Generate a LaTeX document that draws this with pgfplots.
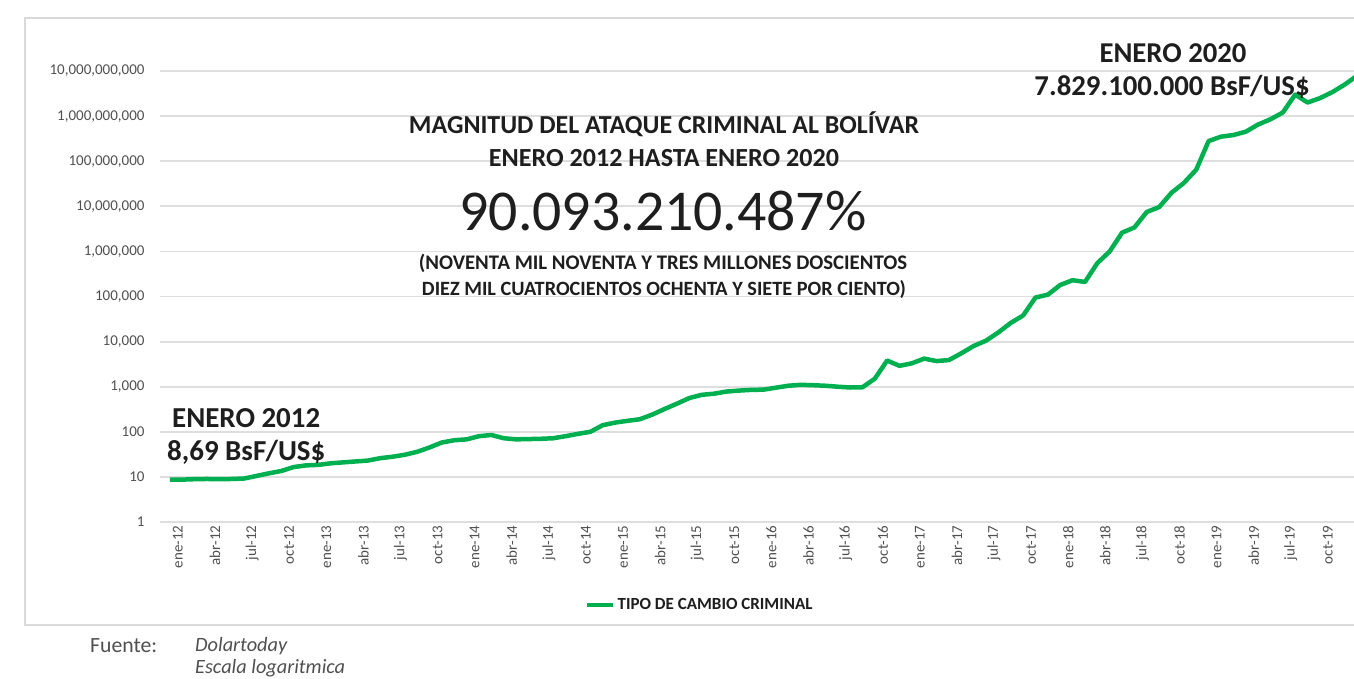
\documentclass[border=0pt]{standalone}
\usepackage{fontspec}
\setmainfont{Carlito}
\usepackage{graphicx}
\usepackage{pgfplots}
\usepackage{pgfplotstable}
\pgfplotsset{compat=1.18}

\definecolor{verde}{RGB}{0,176,80}
\definecolor{rejilla}{RGB}{222,222,222}
\definecolor{marco}{RGB}{217,217,217}
\definecolor{txtticks}{RGB}{80,80,80}
\definecolor{txt}{RGB}{30,30,30}

% tipo de cambio mensual (BsF/US$), mes 0 = ene-12
\pgfplotstableread{
m  v
0  8.69
1  8.7
2  8.9
3  9.0
4  8.9
5  9.0
6  9.2
7  10.5
8  12.0
9  13.5
10 16.5
11 18.0
12 18.5
13 20
14 21
15 22
16 23
17 26
18 28
19 31
20 36
21 45
22 58
23 65
24 68
25 80
26 85
27 72
28 68
29 69
30 70
31 72
32 80
33 90
34 100
35 140
36 160
37 175
38 190
39 240
40 320
41 420
42 560
43 660
44 700
45 780
46 820
47 850
48 860
49 950
50 1050
51 1100
52 1080
53 1050
54 1000
55 960
56 970
57 1500
58 3800
59 2900
60 3300
61 4200
62 3700
63 3900
64 5500
65 8000
66 10500
67 16000
68 26000
69 38000
70 95000
71 110000
72 180000
73 230000
74 210000
75 550000
76 1000000
77 2600000
78 3400000
79 7500000
80 9600000
81 20000000
82 33000000
83 65000000
84 280000000
85 350000000
86 380000000
87 450000000
88 650000000
89 850000000
90 1200000000
91 3000000000
92 2000000000
93 2500000000
94 3400000000
95 5000000000
96 7829100000
}\datos

\begin{document}
\begin{tikzpicture}
\useasboundingbox (0pt,0pt) rectangle (1354pt,-679pt);
\fill[white] (0pt,0pt) rectangle (1354pt,-679pt);
\draw[marco, line width=1.5pt] (1360pt,-18pt) -- (25pt,-18pt) -- (25pt,-625pt) -- (1360pt,-625pt);

\begin{axis}[
  scale only axis,
  width=1197pt, height=451pt,
  at={(160pt,-522pt)}, anchor=south west,
  xmin=-0.8, xmax=96,
  ymode=log, ymin=1, ymax=1e10,
  axis line style={draw=none},
  tick style={draw=none},
  ymajorgrids,
  grid style={rejilla, line width=1.8pt},
  ytick={1,10,100,1000,10000,100000,1000000,10000000,100000000,1000000000,10000000000},
  yticklabels={1,10,100,{1,000},{10,000},{100,000},{1,000,000},{10,000,000},{100,000,000},{1,000,000,000},{10,000,000,000}},
  yticklabel style={font=\fontsize{15}{15}\selectfont, text=txtticks, xshift=-12pt},
  xtick={0,3,...,93},
  xticklabels={ene-12,abr-12,jul-12,oct-12,ene-13,abr-13,jul-13,oct-13,ene-14,abr-14,jul-14,oct-14,ene-15,abr-15,jul-15,oct-15,ene-16,abr-16,jul-16,oct-16,ene-17,abr-17,jul-17,oct-17,ene-18,abr-18,jul-18,oct-18,ene-19,abr-19,jul-19,oct-19},
  xticklabel style={rotate=90, anchor=east, font=\fontsize{15}{15}\selectfont, text=txtticks, yshift=-8pt},
  /pgf/number format/assume math mode=true,
  legend style={at={(0.451,-0.184)}, anchor=center, draw=none, fill=none,
    font=\bfseries\fontsize{17}{17}\selectfont, text=txt},
  legend image code/.code={\draw[#1] (0pt,0pt) -- (26pt,0pt);},
]
\addplot[verde, line width=4.5pt, line join=round] table[x=m, y=v] {\datos};
\addlegendentry{TIPO DE CAMBIO CRIMINAL}
\end{axis}

\begin{scope}[every node/.style={inner sep=0pt, text=txt}]
\node[anchor=west] at (172pt,-418pt) {\resizebox{148pt}{!}{\bfseries ENERO 2012}};
\node[anchor=west] at (167pt,-452pt) {\resizebox{158pt}{!}{\bfseries 8,69 BsF/US\$}};
\node at (1173pt,-53pt) {\resizebox{147pt}{!}{\bfseries ENERO 2020}};
\node at (1172pt,-87pt) {\resizebox{275pt}{!}{\bfseries 7.829.100.000 BsF/US\$}};
\node at (664pt,-124pt) {\resizebox{510pt}{!}{\bfseries MAGNITUD DEL ATAQUE CRIMINAL AL BOLÍVAR}};
\node at (664pt,-158pt) {\resizebox{350pt}{!}{\bfseries ENERO 2012 HASTA ENERO 2020}};
\node at (663pt,-211pt) {\resizebox{407pt}{!}{90.093.210.487\%}};
\node at (663pt,-263pt) {\resizebox{488pt}{!}{\bfseries (NOVENTA MIL NOVENTA Y TRES MILLONES DOSCIENTOS}};
\node at (664pt,-290pt) {\resizebox{484pt}{!}{\bfseries DIEZ MIL CUATROCIENTOS OCHENTA Y SIETE POR CIENTO)}};
\node[anchor=west, text=txtticks] at (90pt,-646pt) {\resizebox{67pt}{!}{Fuente:}};
\node[anchor=west, text=txtticks] at (195pt,-646pt) {\resizebox{92pt}{!}{\itshape Dolartoday}};
\node[anchor=west, text=txtticks] at (195pt,-668pt) {\resizebox{150pt}{!}{\itshape Escala logaritmica}};
\end{scope}
\end{tikzpicture}
\end{document}
